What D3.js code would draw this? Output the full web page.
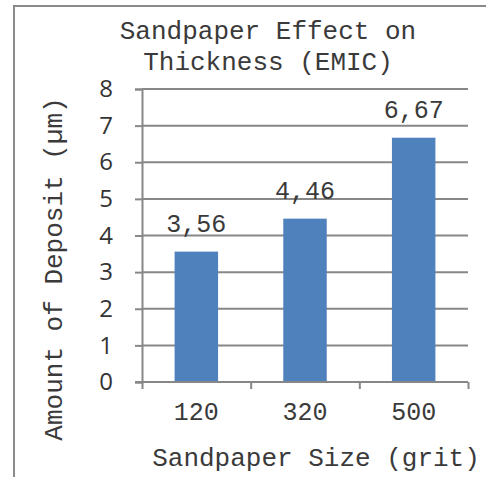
<!DOCTYPE html>
<html>
<head>
<meta charset="utf-8">
<script src="https://cdn.jsdelivr.net/npm/d3@7"></script>
<style>
  html, body { margin: 0; padding: 0; background: #fff; }
  svg { display: block; }
</style>
</head>
<body>
<svg id="chart" width="486" height="477"></svg>
<script>
// Sandpaper grit sizes and the measured deposit thickness for each
const categories = ["120", "320", "500"];
const values = [3.56, 4.46, 6.67];
const valueLabels = ["3,56", "4,46", "6,67"];
const yTicks = [0, 1, 2, 3, 4, 5, 6, 7, 8];
const titleLines = ["Sandpaper Effect on", "Thickness (EMIC)"];
const xTitle = "Sandpaper Size (grit)";
const yTitle = "Amount of Deposit (µm)";

const svg = d3.select("#chart");
const mono = "'Liberation Mono', 'Courier New', monospace";
const sans = "'Open Sans', 'Liberation Sans', sans-serif";
const gridColor = "#878787";
const barColor = "#4F81BD";
const textColor = "#3a3a3a";

// outer chart frame
svg.append("path")
  .attr("d", "M14,490 L14,6 L500,6")
  .attr("fill", "none")
  .attr("stroke", "#8a8a8a")
  .attr("stroke-width", 2);

const plot = { left: 142, right: 468, top: 89, bottom: 382 };

const x = d3.scaleBand()
  .domain(categories)
  .range([plot.left, plot.right])
  .paddingInner(0.6)
  .paddingOuter(0.3);

const y = d3.scaleLinear()
  .domain([0, 8])
  .range([plot.bottom, plot.top]);

// horizontal gridlines
svg.append("g")
  .selectAll("line")
  .data(yTicks.filter(d => d > 0))
  .join("line")
  .attr("x1", plot.left)
  .attr("x2", plot.right)
  .attr("y1", d => y(d))
  .attr("y2", d => y(d))
  .attr("stroke", gridColor)
  .attr("stroke-width", 2);

// y axis
const yAxis = svg.append("g")
  .attr("transform", `translate(${plot.left},0)`)
  .call(d3.axisLeft(y).tickValues(yTicks).tickSize(7).tickPadding(22));
yAxis.select(".domain").attr("stroke", gridColor).attr("stroke-width", 2);
yAxis.selectAll(".tick line").attr("stroke", gridColor).attr("stroke-width", 2);
yAxis.selectAll(".tick text")
  .attr("font-family", sans)
  .attr("font-size", 24)
  .attr("fill", "#333");

// bars
svg.append("g")
  .selectAll("rect")
  .data(values)
  .join("rect")
  .attr("x", (d, i) => x(categories[i]))
  .attr("width", x.bandwidth())
  .attr("y", d => y(d))
  .attr("height", d => y(0) - y(d))
  .attr("fill", barColor);

// x axis with ticks between categories
const xEdges = d3.scaleLinear().domain([0, categories.length]).range([plot.left, plot.right]);
const xAxis = svg.append("g")
  .attr("transform", `translate(0,${plot.bottom})`)
  .call(d3.axisBottom(xEdges).ticks(categories.length).tickSize(7).tickFormat(""));
xAxis.select(".domain").attr("stroke", gridColor).attr("stroke-width", 2)
  .attr("d", `M${plot.left - 7},0H${plot.right}`);
xAxis.selectAll(".tick line").attr("stroke", gridColor).attr("stroke-width", 2);

// category labels
svg.append("g")
  .selectAll("text")
  .data(categories)
  .join("text")
  .attr("x", d => x(d) + x.bandwidth() / 2)
  .attr("y", 420)
  .attr("text-anchor", "middle")
  .attr("font-family", mono)
  .attr("font-size", 25)
  .attr("fill", textColor)
  .text(d => d);

// value labels above bars
svg.append("g")
  .selectAll("text")
  .data(values)
  .join("text")
  .attr("x", (d, i) => x(categories[i]) + x.bandwidth() / 2)
  .attr("y", d => y(d) - 20)
  .attr("text-anchor", "middle")
  .attr("font-family", mono)
  .attr("font-size", 25)
  .attr("fill", textColor)
  .text((d, i) => valueLabels[i]);

// chart title
svg.append("g")
  .selectAll("text")
  .data(titleLines)
  .join("text")
  .attr("x", 268)
  .attr("y", (d, i) => 39 + i * 31)
  .attr("text-anchor", "middle")
  .attr("font-family", mono)
  .attr("font-size", 26)
  .attr("fill", textColor)
  .text(d => d);

// axis titles
svg.append("text")
  .attr("x", 316)
  .attr("y", 466)
  .attr("text-anchor", "middle")
  .attr("font-family", mono)
  .attr("font-size", 26)
  .attr("fill", textColor)
  .text(xTitle);

svg.append("text")
  .attr("transform", "translate(62,269) rotate(-90)")
  .attr("text-anchor", "middle")
  .attr("font-family", mono)
  .attr("font-size", 26)
  .attr("fill", textColor)
  .text(yTitle);
</script>
</body>
</html>
